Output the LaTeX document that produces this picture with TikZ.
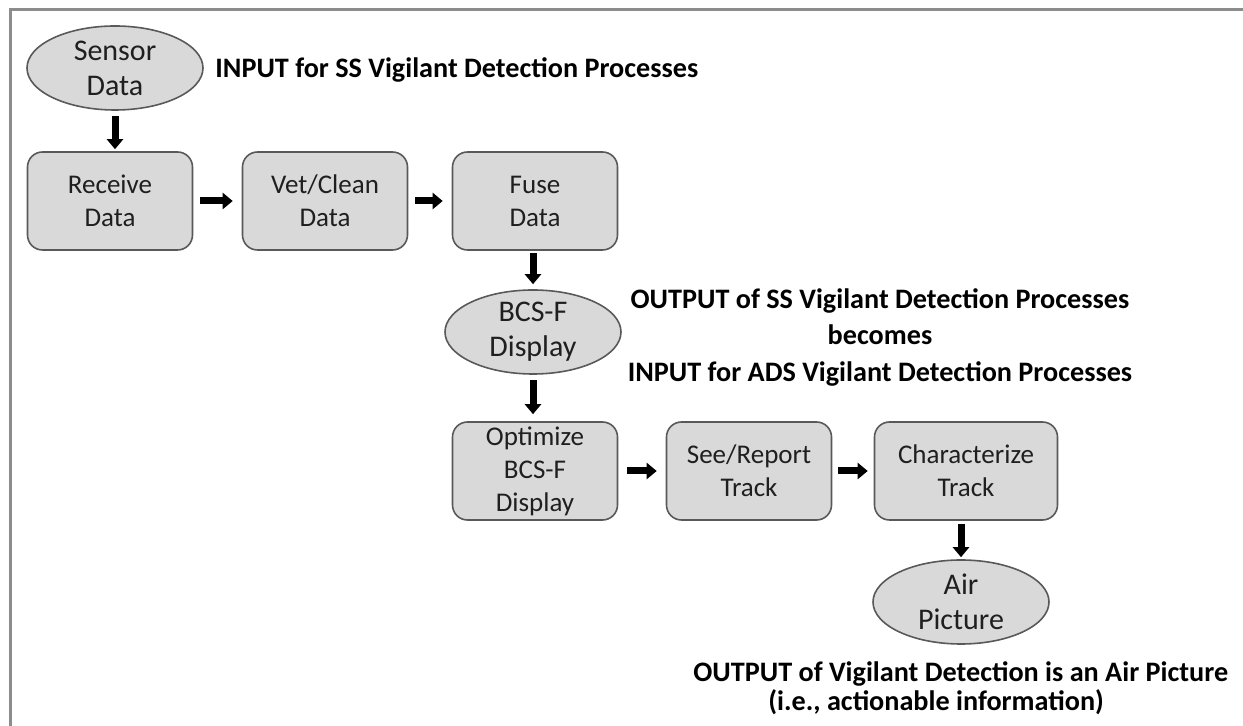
\documentclass[tikz,border=0pt]{standalone}
\usepackage{fontspec}
\setmainfont{Carlito}
\usepackage{xcolor}
\usetikzlibrary{shapes.geometric, arrows.meta}

\definecolor{boxfill}{HTML}{D9D9D9}
\definecolor{boxline}{HTML}{595959}
\definecolor{framegray}{HTML}{8C8C8C}
\definecolor{textgray}{HTML}{1F1F1F}

\begin{document}
\begin{tikzpicture}[x=0.5pt, y=-0.5pt,
  procbox/.style={draw=boxline, fill=boxfill, line width=0.8pt, rounded corners=7.5pt,
    minimum width=82.5pt, minimum height=49pt, inner sep=1pt, align=center,
    text=textgray, font=\fontsize{13.5}{16.5}\selectfont},
  ellbody/.style={ellipse, draw=boxline, fill=boxfill, line width=0.8pt,
    minimum width=88pt, minimum height=42pt, inner sep=0pt},
  elltext/.style={align=center, inner sep=0pt, text=textgray, font=\fontsize{15}{17.5}\selectfont},
  flow/.style={-{Triangle[width=8pt,length=5pt]}, line width=3.5pt},
  note/.style={align=center, inner sep=0pt, font=\bfseries\fontsize{14.1}{18.25}\selectfont}]
\useasboundingbox (0,0) rectangle (1243,726);
\draw[framegray, line width=1.5pt] (1243,10) -- (10,10) -- (10,726);

% input side
\node[ellbody, label={[elltext]center:Sensor\\Data}] (sensor) at (115,68) {};
\node[note, anchor=west] (inlabel) at (215,70) {INPUT for SS Vigilant Detection Processes};
\node[procbox] (receive) at (110,201) {Receive\\Data};
\node[procbox] (vet) at (325,201) {Vet/Clean\\Data};
\node[procbox] (fuse) at (535,201) {Fuse\\Data};

% hand over
\node[ellbody, label={[elltext]center:BCS-F\\Display}] (bcs) at (533,332) {};
\node[note] (midlabel) at (880,337) {OUTPUT of SS Vigilant Detection Processes\\becomes\\INPUT for ADS Vigilant Detection Processes};

% output side
\node[procbox] (optim) at (535,471) {Optimize\\BCS-F\\Display};
\node[procbox] (seerep) at (749,471) {See/Report\\Track};
\node[procbox, minimum width=91.5pt] (charz) at (966,471) {Characterize\\Track};
\node[ellbody, label={[elltext]center:Air\\Picture}] (air) at (961,602) {};
\node[note, align=left, anchor=west, font=\bfseries\fontsize{14.1}{14.5}\selectfont] (outlabel) at (693,688)
  {OUTPUT of Vigilant Detection is an Air Picture\\\hspace*{37.5pt}(i.e., actionable information)};

\draw[flow, shorten <=2.5pt, shorten >=1pt] (sensor.south) -- (sensor.south |- receive.north);
\draw[flow, shorten <=3.5pt, shorten >=4.5pt] (receive) -- (vet);
\draw[flow, shorten <=3.5pt, shorten >=4.5pt] (vet) -- (fuse);
\draw[flow, shorten <=1pt, shorten >=2.5pt] (fuse.south -| bcs.north) -- (bcs.north);
\draw[flow, shorten <=2.5pt, shorten >=3.5pt] (bcs.south) -- (bcs.south |- optim.north);
\draw[flow, shorten <=4.5pt, shorten >=4.5pt] (optim) -- (seerep);
\draw[flow, shorten <=3pt, shorten >=3pt] (seerep) -- (charz);
\draw[flow, shorten <=1.5pt, shorten >=1pt] (charz.south -| air.north) -- (air.north);
\end{tikzpicture}
\end{document}
